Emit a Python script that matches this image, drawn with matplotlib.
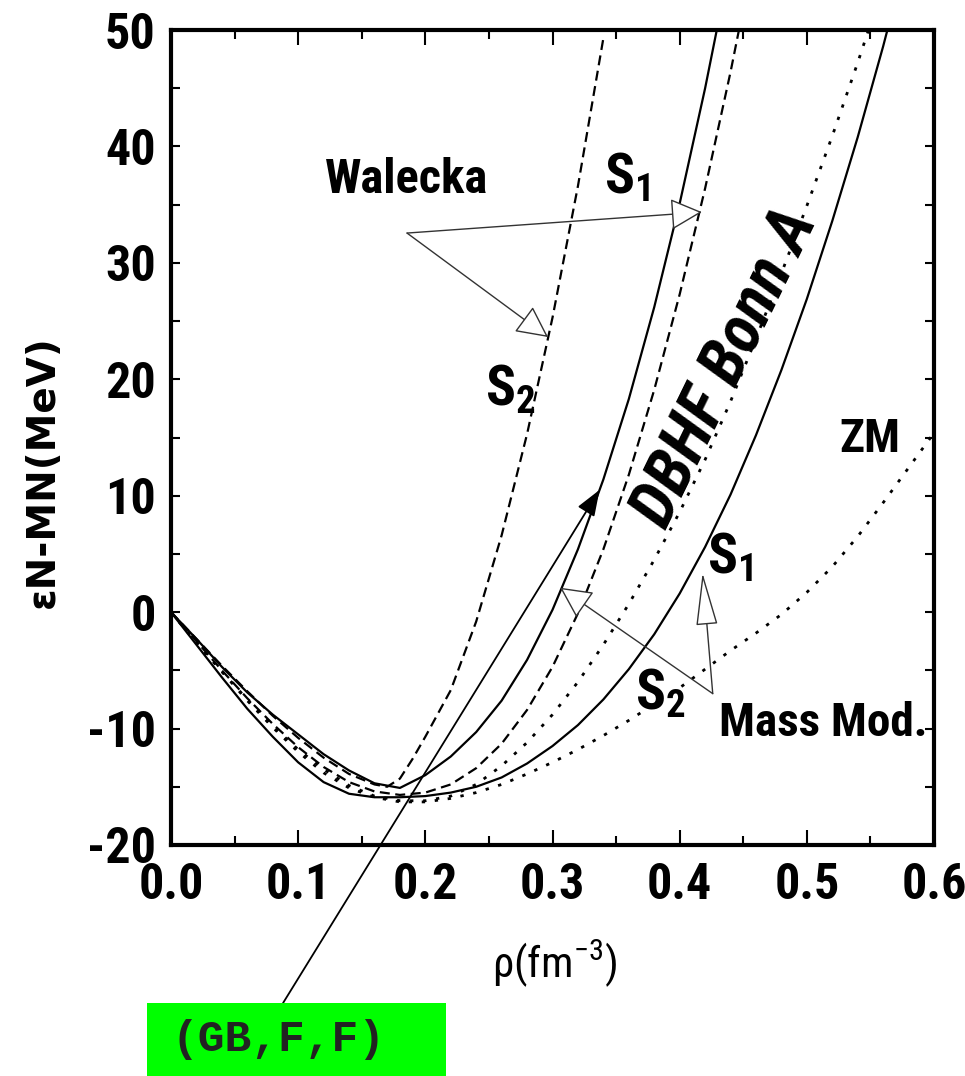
import matplotlib
matplotlib.use('Agg')
import matplotlib.pyplot as plt
from matplotlib import font_manager
from matplotlib.patches import Rectangle

# pick the narrowest sans family that is installed
installed = {f.name for f in font_manager.fontManager.ttflist}
main_font = 'DejaVu Sans'
for cand in ['Liberation Sans Narrow', 'DejaVu Sans Condensed', 'Roboto Condensed',
             'Open Sans Condensed', 'Liberation Sans', 'Roboto']:
    if cand in installed:
        main_font = cand
        break

plt.rcParams['font.family'] = [main_font, 'DejaVu Sans']
plt.rcParams['font.weight'] = 'bold'
plt.rcParams['axes.unicode_minus'] = False
plt.rcParams['mathtext.fontset'] = 'custom'
plt.rcParams['mathtext.rm'] = main_font + ':bold'
plt.rcParams['mathtext.bf'] = main_font + ':bold'
plt.rcParams['mathtext.default'] = 'bf'

# density grid (fm^-3)
rho = [0.00, 0.02, 0.04, 0.06, 0.08, 0.10, 0.12, 0.14, 0.16, 0.18, 0.20,
       0.22, 0.24, 0.26, 0.28, 0.30, 0.32, 0.34, 0.36, 0.38, 0.40,
       0.42, 0.44, 0.46, 0.48, 0.50, 0.52, 0.54, 0.56, 0.58, 0.60]

# Walecka S2 (dashed, steepest)
rho_w2 = [0.00, 0.02, 0.04, 0.06, 0.08, 0.10, 0.12, 0.14, 0.16, 0.17, 0.18,
          0.19, 0.20, 0.22, 0.24, 0.26, 0.28, 0.30, 0.32, 0.34]
e_w2 = [0, -2.3, -4.6, -6.8, -8.9, -10.8, -12.5, -13.9, -14.8, -15.0, -14.3,
        -12.6, -10.7, -6.7, -0.8, 6.6, 15.3, 25.3, 36.6, 49.3]

# Walecka S1 (dashed)
e_w1 = [0, -2.5, -5.0, -7.4, -9.6, -11.6, -13.3, -14.6, -15.4, -15.7, -15.5,
        -14.8, -13.4, -11.3, -8.4, -4.7, -0.1, 5.4, 11.8, 19.1, 27.3,
        36.4, 46.4, 57.3]

# Mass Mod. S2 (solid, inner)
e_m2 = [0, -2.3, -4.7, -6.9, -8.8, -10.5, -12.2, -13.6, -14.7, -15.1, -14.0,
        -12.4, -10.3, -7.6, -4.1, 0.2, 5.4, 11.4, 18.3, 26.2, 35.1,
        45.0, 55.9]

# Mass Mod. S1 (solid, outer)
e_m1 = [0, -2.8, -5.6, -8.3, -10.7, -12.9, -14.6, -15.6, -15.9, -15.9, -15.8,
        -15.5, -15.0, -14.2, -13.0, -11.5, -9.7, -7.5, -4.9, -1.9, 1.6,
        5.6, 10.1, 15.2, 20.8, 26.9, 33.6, 40.8, 48.6, 57.0]

# DBHF Bonn A (dotted)
e_db = [0, -2.6, -5.1, -7.5, -9.8, -11.8, -13.5, -14.9, -15.8, -16.2, -16.2,
        -15.8, -14.8, -13.2, -11.2, -8.8, -6.0, -2.8, 0.7, 4.5, 8.6,
        13.1, 18.1, 23.5, 29.1, 34.9, 40.9, 47.2, 53.8]

# ZM (dotted)
e_zm = [0, -2.6, -5.1, -7.6, -9.9, -12.0, -13.8, -15.1, -15.9, -16.3, -16.3,
        -16.0, -15.5, -14.8, -13.9, -12.9, -11.8, -10.6, -9.3, -7.9, -6.5,
        -4.9, -3.3, -1.8, -0.2, 1.7, 3.9, 6.5, 9.4, 12.4, 15.4]

xticks = [0.0, 0.1, 0.2, 0.3, 0.4, 0.5, 0.6]
xticklabels = ['0.0', '0.1', '0.2', '0.3', '0.4', '0.5', '0.6']
yticks = [-20, -10, 0, 10, 20, 30, 40, 50]

fig = plt.figure(figsize=(9.65, 10.76), dpi=100)
ax = fig.add_axes([0.1772, 0.2147, 0.7907, 0.7574])

dashed = (0, (4.5, 2.5))
dotted = (0, (1.2, 3.5))
ax.plot(rho_w2, e_w2, color='black', lw=1.6, linestyle=dashed)
ax.plot(rho[:len(e_w1)], e_w1, color='black', lw=1.6, linestyle=dashed)
ax.plot(rho[:len(e_m2)], e_m2, color='black', lw=1.6)
ax.plot(rho[:len(e_m1)], e_m1, color='black', lw=1.6)
ax.plot(rho[:len(e_db)], e_db, color='black', lw=2, linestyle=dotted)
ax.plot(rho[:len(e_zm)], e_zm, color='black', lw=2, linestyle=dotted)

ax.set_xlim(0, 0.6)
ax.set_ylim(-20, 50)
ax.set_xticks(xticks)
ax.set_xticklabels(xticklabels)
ax.set_xticks([0.05, 0.15, 0.25, 0.35, 0.45, 0.55], minor=True)
ax.set_yticks(yticks)
ax.set_yticks([-15, -5, 5, 15, 25, 35, 45], minor=True)
ax.tick_params(which='both', direction='in', top=True, right=True, width=1.5, labelsize=36)
ax.tick_params(axis='x', which='major', length=11, pad=12)
ax.tick_params(axis='x', which='minor', length=6.5)
ax.tick_params(axis='y', which='both', length=6.5, pad=11)
for s in ax.spines.values():
    s.set_linewidth(3)

ax.set_xlabel(r'$\mathregular{\rho(fm^{-3})}$', fontsize=31, fontweight='normal')
ax.xaxis.set_label_coords(0.503, -0.115)
ax.set_ylabel('εN-MN(MeV)', fontsize=28, fontweight='bold', family=['DejaVu Sans'])
ax.yaxis.set_label_coords(-0.143, 0.458)

# curve labels
ax.text(0.1856, 37.1, 'Walecka', fontsize=35, ha='center', va='center')
ax.text(0.3586, 37.3, 'S$_1$', fontsize=40, ha='center', va='center')
ax.text(0.2666, 19.1, 'S$_2$', fontsize=40, ha='center', va='center')
ax.text(0.4356, 21.0, 'DBHF Bonn A', fontsize=48, ha='center', va='center',
        rotation=64, style='italic')
ax.text(0.5497, 14.9, 'ZM', fontsize=34, ha='center', va='center')
ax.text(0.440, 4.7, 'S$_1$', fontsize=40, ha='center', va='center')
ax.text(0.385, -7.0, 'S$_2$', fontsize=40, ha='center', va='center')
ax.text(0.513, -9.5, 'Mass Mod.', fontsize=34, ha='center', va='center')

# open-headed pointer arrows
wide = dict(arrowstyle='-|>,head_length=1.0,head_width=0.5', fc='white',
            ec='#333333', lw=1.0, mutation_scale=20, shrinkA=0, shrinkB=0)
ax.annotate('', xy=(0.4175, 34.36), xytext=(0.1856, 32.56), arrowprops=wide)
ax.annotate('', xy=(0.2965, 23.63), xytext=(0.1856, 32.56), arrowprops=wide)
ax.annotate('', xy=(0.306, 2.1), xytext=(0.426, -7.0), arrowprops=wide)
narrow = dict(arrowstyle='-|>,head_length=1.7,head_width=0.35', fc='white',
              ec='#333333', lw=1.0, mutation_scale=20, shrinkA=0, shrinkB=0)
ax.annotate('', xy=(0.418, 3.35), xytext=(0.426, -7.0), arrowprops=narrow)

# green tag below the plot with its arrow
fig.patches.append(Rectangle((0.1523, 0.0), 0.3098, 0.0678, transform=fig.transFigure,
                             facecolor='#00ff00', edgecolor='none'))
fig.text(0.178, 0.0335, '(GB,F,F)', fontsize=32, ha='left', va='center',
         family=['Liberation Mono', 'DejaVu Sans Mono'], color='#222222')
ax.annotate('', xy=(0.337, 10.5), xycoords='data', xytext=(0.2933, 0.0678),
            textcoords='figure fraction', annotation_clip=False,
            arrowprops=dict(arrowstyle='-|>,head_length=0.8,head_width=0.3', color='black',
                            lw=1.3, mutation_scale=20, shrinkA=0, shrinkB=0))

fig.savefig('out.png', dpi=100)
